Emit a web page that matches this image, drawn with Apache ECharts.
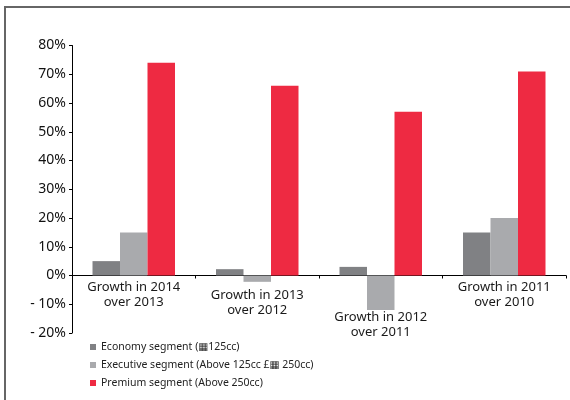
<!DOCTYPE html>
<html>
<head>
<meta charset="utf-8">
<script src="https://cdn.jsdelivr.net/npm/echarts@6/dist/echarts.min.js"></script>
<style>
  html, body { margin: 0; padding: 0; background: #fff; }
  #wrap { position: relative; width: 570px; height: 400px; }
  #chart { position: absolute; left: 0; top: 0; width: 570px; height: 400px; }
  #frame { position: absolute; left: 4px; top: 6px; right: 0; bottom: 0;
           border-left: 2px solid #666; border-top: 2px solid #666; pointer-events: none; }
</style>
</head>
<body>
<div id="wrap"><div id="chart"></div><div id="frame"></div></div>
<script>
const categories = ['Growth in 2014\nover 2013', 'Growth in 2013\nover 2012', 'Growth in 2012\nover 2011', 'Growth in 2011\nover 2010'];
const seriesNames = ['Economy segment (\u25A6125cc)', 'Executive segment (Above 125cc \u00A3\u25A6 250cc)', 'Premium segment (Above 250cc)'];
const economy = [5, 2.2, 3, 15];
const executive = [15, -2.2, -12, 20];
const premium = [74, 66, 57, 71];
const labelSpacers = ['s0', 's8', 's30', 's0'];

const chart = echarts.init(document.getElementById('chart'), null, { renderer: 'canvas' });
const font = '"Noto Sans", "DejaVu Sans", sans-serif';

chart.setOption({
  animation: false,
  backgroundColor: '#ffffff',
  grid: { left: 72, right: 4, top: 45.5, bottom: 67, containLabel: false },
  legend: {
    orient: 'vertical',
    left: 90,
    top: 340,
    padding: 0,
    itemGap: 4,
    itemWidth: 6,
    itemHeight: 6,
    icon: 'rect',
    textStyle: { fontFamily: font, fontSize: 10.5, color: '#222', lineHeight: 14 },
    data: seriesNames
  },
  xAxis: {
    type: 'category',
    data: categories,
    axisLine: { onZero: true, lineStyle: { color: '#000', width: 1 } },
    axisTick: { show: true, length: 3, lineStyle: { color: '#000' } },
    axisLabel: {
      interval: 0,
      margin: -54.5,
      formatter: function (v, i) {
        const parts = v.split('\n');
        return '{' + labelSpacers[i] + '| }\n{t|' + parts[0] + '}\n{t|' + parts[1] + '}';
      },
      rich: {
        t: { fontFamily: font, fontSize: 13, color: '#1a1a1a', lineHeight: 15 },
        s0: { fontSize: 1, lineHeight: 1 },
        s8: { fontSize: 1, lineHeight: 9 },
        s30: { fontSize: 1, lineHeight: 31 }
      }
    }
  },
  yAxis: {
    type: 'value',
    min: -20,
    max: 80,
    interval: 10,
    axisLine: { show: true, lineStyle: { color: '#000', width: 1 } },
    axisTick: { show: true, length: 3, lineStyle: { color: '#000' } },
    splitLine: { show: false },
    axisLabel: {
      margin: 6,
      fontFamily: font,
      fontSize: 14,
      color: '#111',
      formatter: function (v) { return v < 0 ? '- ' + Math.abs(v) + '%' : v + '%'; }
    }
  },
  series: [
    { name: seriesNames[0], type: 'bar', data: economy, barWidth: 27.5, barGap: '0%', itemStyle: { color: '#808184' } },
    { name: seriesNames[1], type: 'bar', data: executive, barWidth: 27.5, barGap: '0%', itemStyle: { color: '#a9aaad' } },
    { name: seriesNames[2], type: 'bar', data: premium, barWidth: 27.5, barGap: '0%', itemStyle: { color: '#ee2a42' } }
  ]
});
</script>
</body>
</html>
